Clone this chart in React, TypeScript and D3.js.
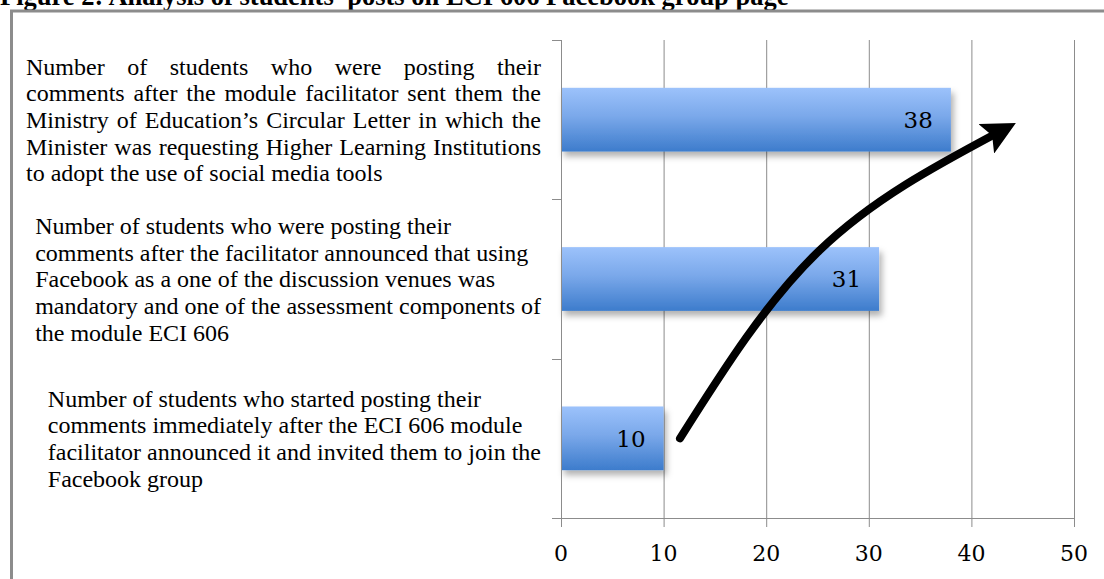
import { useEffect, useRef } from 'react';
import * as d3 from 'd3';

// Bars, bottom to top as drawn
const values = [10, 31, 38];
const categoryLines: string[][] = [
  [
    'Number of students who started posting their',
    'comments immediately after the ECI 606 module',
    'facilitator announced it and invited them to join the',
    'Facebook group',
  ],
  [
    'Number of students who were posting their',
    'comments after the facilitator announced that using',
    'Facebook as a one of the discussion venues was',
    'mandatory and one of the assessment components of',
    'the module ECI 606',
  ],
  [
    'Number of students who were posting their',
    'comments after the module facilitator sent them the',
    'Ministry of Education\u2019s Circular Letter in which the',
    'Minister was requesting Higher Learning Institutions',
    'to adopt the use of social media tools',
  ],
];
const justified = [false, false, true];
const xTicks = [0, 10, 20, 30, 40, 50];

// hand-drawn trend arrow, in (value, category-position) units
const arrowX = [11.6, 25.2, 42.6];
const arrowY = [0.5, 1.68, 2.42];

const title = 'Figure 2: Analysis of students\u2019 posts on ECI 606 Facebook group page';

export default function App() {
  const svgRef = useRef<SVGSVGElement>(null);
  const width = 1104;
  const height = 579;

  useEffect(() => {
    if (!svgRef.current) return;
    const svg = d3.select(svgRef.current);
    svg.selectAll('*').remove();

    const left = 561;
    const right = 1074;
    const top = 40;
    const bottom = 518;
    const serif = '"Liberation Serif", "Times New Roman", serif';
    const numFont = '"DejaVu Serif", serif';

    const x = d3.scaleLinear().domain([0, 50]).range([left, right]);
    const y = d3
      .scaleBand<number>()
      .domain(d3.range(values.length).reverse())
      .range([top, bottom])
      .paddingInner(0.6)
      .paddingOuter(0.3);
    const yPos = d3.scaleLinear().domain([0, 3]).range([bottom, top]);
    const band = (bottom - top) / values.length;

    const defs = svg.append('defs');
    const grad = defs
      .append('linearGradient')
      .attr('id', 'barGrad')
      .attr('x1', 0)
      .attr('y1', 0)
      .attr('x2', 0)
      .attr('y2', 1);
    grad.append('stop').attr('offset', '0%').attr('stop-color', '#9cc2fb');
    grad.append('stop').attr('offset', '45%').attr('stop-color', '#7aa8ea');
    grad.append('stop').attr('offset', '100%').attr('stop-color', '#3d7ccc');

    const shadow = defs
      .append('filter')
      .attr('id', 'barShadow')
      .attr('x', '-10%')
      .attr('y', '-20%')
      .attr('width', '130%')
      .attr('height', '160%');
    shadow
      .append('feDropShadow')
      .attr('dx', 3)
      .attr('dy', 5)
      .attr('stdDeviation', 3)
      .attr('flood-color', '#000')
      .attr('flood-opacity', 0.3);

    defs
      .append('marker')
      .attr('id', 'arrowHead')
      .attr('viewBox', '0 0 10 10')
      .attr('refX', 4)
      .attr('refY', 5)
      .attr('markerWidth', 4.2)
      .attr('markerHeight', 4.2)
      .attr('markerUnits', 'strokeWidth')
      .attr('orient', 'auto')
      .append('path')
      .attr('d', 'M0,0 L10,5 L0,10 L2,5 Z')
      .attr('fill', '#000');

    // Title (cropped at the top of the page, as in the source scan)
    svg
      .append('text')
      .attr('x', 0)
      .attr('y', 5)
      .attr('font-family', serif)
      .attr('font-weight', 'bold')
      .attr('font-size', '26.5px')
      .attr('fill', '#000')
      .text(title);

    // Frame
    svg
      .append('path')
      .attr('d', `M11.5,${height} V11 H${width + 5}`)
      .attr('fill', 'none')
      .attr('stroke', '#8c8c8c')
      .attr('stroke-width', 3);

    // Gridlines
    svg
      .append('g')
      .selectAll('line')
      .data(xTicks.slice(1))
      .enter()
      .append('line')
      .attr('x1', (d) => x(d) + 0.5)
      .attr('x2', (d) => x(d) + 0.5)
      .attr('y1', top)
      .attr('y2', bottom)
      .attr('stroke', '#8c8c8c')
      .attr('stroke-width', 1);

    // Bars
    svg
      .append('g')
      .selectAll('rect')
      .data(values)
      .enter()
      .append('rect')
      .attr('x', x(0))
      .attr('y', (_, i) => y(i)!)
      .attr('width', (d) => x(d) - x(0))
      .attr('height', y.bandwidth())
      .attr('fill', 'url(#barGrad)')
      .attr('filter', 'url(#barShadow)');

    // Value labels
    svg
      .append('g')
      .selectAll('text')
      .data(values)
      .enter()
      .append('text')
      .attr('x', (d) => x(d) - 18)
      .attr('y', (_, i) => y(i)! + y.bandwidth() / 2)
      .attr('dy', '0.36em')
      .attr('text-anchor', 'end')
      .attr('font-family', numFont)
      .attr('font-size', '23px')
      .attr('fill', '#000')
      .text((d) => d);

    // Axes
    const axisColor = '#8c8c8c';
    svg
      .append('line')
      .attr('x1', left + 0.5)
      .attr('x2', left + 0.5)
      .attr('y1', top)
      .attr('y2', bottom)
      .attr('stroke', axisColor);
    svg
      .append('line')
      .attr('x1', left - 9)
      .attr('x2', right + 0.5)
      .attr('y1', bottom + 0.5)
      .attr('y2', bottom + 0.5)
      .attr('stroke', axisColor);
    svg
      .append('g')
      .selectAll('line')
      .data(d3.range(values.length + 1))
      .enter()
      .append('line')
      .attr('x1', left - 9)
      .attr('x2', left)
      .attr('y1', (d) => Math.round(top + d * band) + 0.5)
      .attr('y2', (d) => Math.round(top + d * band) + 0.5)
      .attr('stroke', axisColor);
    svg
      .append('g')
      .selectAll('line')
      .data(xTicks)
      .enter()
      .append('line')
      .attr('x1', (d) => x(d) + 0.5)
      .attr('x2', (d) => x(d) + 0.5)
      .attr('y1', bottom)
      .attr('y2', bottom + 9)
      .attr('stroke', axisColor);
    svg
      .append('g')
      .selectAll('text')
      .data(xTicks)
      .enter()
      .append('text')
      .attr('x', (d) => x(d))
      .attr('y', 561)
      .attr('text-anchor', 'middle')
      .attr('font-family', numFont)
      .attr('font-size', '22px')
      .attr('fill', '#000')
      .text((d) => d);

    // Category labels
    const labelRight = 541;
    const lineH = 26.7;
    categoryLines.forEach((lines, i) => {
      const cy = top + (values.length - 1 - i) * band + band / 2;
      const g = svg
        .append('g')
        .attr('font-family', serif)
        .attr('font-size', '24px')
        .attr('fill', '#000');
      const y0 = cy - ((lines.length - 1) * lineH) / 2;
      const texts = lines.map((ln, j) =>
        g
          .append('text')
          .attr('y', y0 + j * lineH)
          .attr('dy', '0.35em')
          .text(ln),
      );
      const widths = texts.map((t) => (t.node() as SVGTextElement).getComputedTextLength());
      const maxW = d3.max(widths) ?? 0;
      if (!justified[i]) {
        texts.forEach((t) => t.attr('x', labelRight - maxW));
        return;
      }
      const x0 = 26;
      const full = labelRight - x0;
      texts.forEach((t, j) => {
        const ln = lines[j];
        if (j === lines.length - 1) {
          t.attr('x', x0);
          return;
        }
        t.text(null);
        const words = ln.split(' ');
        const spans = words.map((w) => t.append('tspan').text(w));
        const ww = spans.map((s) => (s.node() as SVGTSpanElement).getComputedTextLength());
        const gap = (full - d3.sum(ww)) / (words.length - 1);
        let cx = x0;
        spans.forEach((s, k) => {
          s.attr('x', cx);
          cx += ww[k] + gap;
        });
      });
    });

    // Trend arrow
    const pts: [number, number][] = arrowX.map((v, k) => [x(v), yPos(arrowY[k])]);
    const line = d3
      .line<[number, number]>()
      .x((d) => d[0])
      .y((d) => d[1])
      .curve(d3.curveNatural);
    svg
      .append('path')
      .datum(pts)
      .attr('d', line)
      .attr('fill', 'none')
      .attr('stroke', '#000')
      .attr('stroke-width', 8)
      .attr('stroke-linecap', 'round')
      .attr('marker-end', 'url(#arrowHead)');
  }, []);

  return (
    <svg
      ref={svgRef}
      width={width}
      height={height}
      style={{ position: 'absolute', left: 0, top: 0, background: '#fff' }}
    />
  );
}
